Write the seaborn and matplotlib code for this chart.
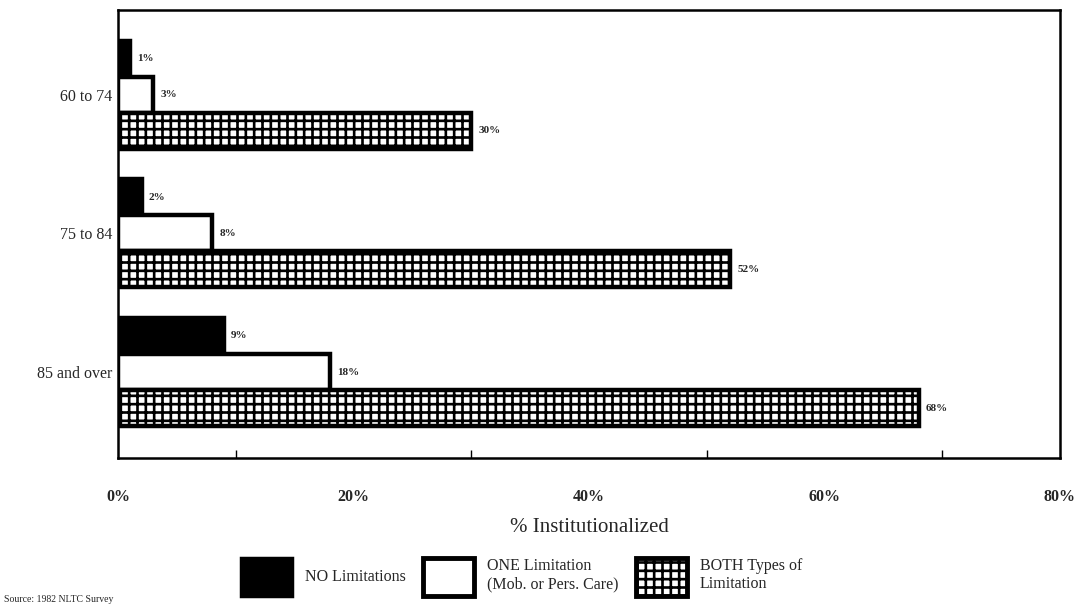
import matplotlib
matplotlib.use("Agg")
import matplotlib.pyplot as plt
import seaborn as sns
import pandas as pd
from matplotlib.patches import Patch
from matplotlib.ticker import FixedLocator

# Age groups and share institutionalized (%) by type of limitation
age_groups = ["60 to 74", "75 to 84", "85 and over"]
series_names = ["NO Limitations", "ONE Limitation\n(Mob. or Pers. Care)", "BOTH Types of\nLimitation"]
no_limit = [1, 2, 9]
one_limit = [3, 8, 18]
both_limit = [30, 52, 68]
x_ticks = [0, 20, 40, 60, 80]
x_tick_labels = ["0%", "20%", "40%", "60%", "80%"]

sns.set_theme(style="white")
plt.rcParams["font.family"] = ["Liberation Serif", "DejaVu Serif"]
plt.rcParams["hatch.linewidth"] = 1.9
plt.rcParams["hatch.color"] = "black"

rows = []
for name, vals in zip(series_names, [no_limit, one_limit, both_limit]):
    for g, v in zip(age_groups, vals):
        rows.append({"age": g, "pct": v, "type": name})
df = pd.DataFrame(rows)

fig = plt.figure(figsize=(10.8, 6.06), dpi=100)
ax = fig.add_axes([118 / 1080, 1 - 458 / 606, (1060 - 118) / 1080, (458 - 10) / 606])

palette = {series_names[0]: "black", series_names[1]: "white", series_names[2]: "white"}
sns.barplot(data=df, y="age", x="pct", hue="type", order=age_groups,
            hue_order=series_names, palette=palette, orient="h",
            width=0.78, edgecolor="black", linewidth=3.2, saturation=1,
            legend=False, ax=ax)

# grid-pattern fill for the "both" series
for patch in ax.containers[2]:
    patch.set_hatch("++")

# value labels next to each bar
for cont, vals in zip(ax.containers, [no_limit, one_limit, both_limit]):
    ax.bar_label(cont, labels=[f"{v}%" for v in vals], padding=5,
                 fontsize=8, fontweight="bold")

ax.set_xlim(0, 80)
ax.set_ylim(2.62, -0.61)
ax.xaxis.set_major_locator(FixedLocator(x_ticks))
ax.set_xticklabels(x_tick_labels, fontsize=11.5, fontweight="bold")
ax.xaxis.set_minor_locator(FixedLocator([10, 30, 50, 70]))
ax.tick_params(axis="x", which="major", length=0, pad=22)
ax.tick_params(axis="x", which="minor", direction="in", length=6, width=1,
               color="black", bottom=True)
ax.tick_params(axis="y", which="major", direction="in", length=12, width=1,
               color="black", left=True, labelsize=11.5, pad=4)
ax.set_ylabel("")
ax.set_xlabel("% Institutionalized", fontsize=15, labelpad=10)

for sp in ax.spines.values():
    sp.set_visible(True)
    sp.set_color("black")
    sp.set_linewidth(1.8)

handles = [
    Patch(facecolor="black", edgecolor="black", linewidth=2.5),
    Patch(facecolor="white", edgecolor="black", linewidth=3.5),
    Patch(facecolor="white", edgecolor="black", linewidth=3.5, hatch="++"),
]
fig.legend(handles, series_names, loc="upper center", ncol=3,
           bbox_to_anchor=(0.483, 0.08), frameon=False, fontsize=11.5,
           handlelength=3.2, handleheight=3.3, columnspacing=1.1,
           handletextpad=0.8, borderaxespad=0, borderpad=0)

fig.text(0.004, 0.004, "Source: 1982 NLTC Survey", fontsize=7, ha="left", va="bottom")

fig.savefig("out.png", dpi=100)
